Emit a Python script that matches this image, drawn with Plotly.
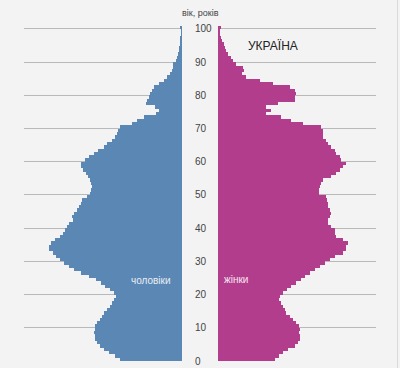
import plotly.graph_objects as go

# Age (years) 0..100
ages = list(range(0, 101))

# Population by single year of age, thousands
male = [186, 201, 219, 234, 246, 255, 261, 261, 264, 261,
        261, 255, 246, 240, 234, 225, 216, 210, 204, 198,
        204, 216, 231, 243, 258, 279, 303, 324, 339, 354,
        366, 378, 387, 399, 399, 393, 381, 366, 357, 351,
        345, 339, 327, 330, 324, 315, 309, 303, 300, 285,
        276, 273, 270, 273, 276, 282, 288, 297, 303, 303,
        291, 279, 264, 252, 234, 225, 210, 201, 195, 192,
        186, 150, 135, 114, 78, 69, 81, 108, 105, 99,
        96, 90, 84, 69, 54, 45, 36, 30, 27, 27,
        18, 15, 12, 10, 9, 7, 6, 4, 3, 3,
        6]

female = [171, 183, 195, 210, 231, 240, 246, 246, 243, 246,
          243, 234, 225, 216, 204, 201, 195, 189, 183, 186,
          195, 207, 219, 234, 249, 261, 276, 291, 306, 321,
          336, 351, 375, 384, 384, 390, 375, 354, 351, 351,
          339, 330, 330, 336, 339, 336, 330, 330, 327, 324,
          303, 303, 306, 309, 315, 339, 354, 366, 375, 384,
          369, 366, 354, 351, 339, 330, 324, 315, 315, 315,
          309, 255, 219, 189, 144, 159, 144, 180, 231, 231,
          234, 231, 216, 165, 126, 84, 72, 78, 75, 54,
          45, 39, 30, 24, 21, 18, 12, 9, 6, 6,
          9]

tick_vals = [0, 10, 20, 30, 40, 50, 60, 70, 80, 90, 100]
tick_text = ["0", "10", "20", "30", "40", "50", "60", "70", "80", "90", "100"]

MALE = "#5b87b4"
FEMALE = "#b33d8d"
GRID = "#b9b9b9"
BG = "#f3f3f3"
FONT = "Liberation Sans, Arial, sans-serif"

fig = go.Figure()
fig.add_trace(go.Bar(y=ages, x=male, orientation="h", width=1, offset=0,
                     marker=dict(color=MALE, line=dict(width=0)),
                     xaxis="x", yaxis="y", name="чоловіки", hoverinfo="x+y"))
fig.add_trace(go.Bar(y=ages, x=female, orientation="h", width=1, offset=0,
                     marker=dict(color=FEMALE, line=dict(width=0)),
                     xaxis="x2", yaxis="y2", name="жінки", hoverinfo="x+y"))

fig.update_layout(
    width=400, height=368,
    margin=dict(l=0, r=0, t=24, b=7, autoexpand=False),
    paper_bgcolor=BG, plot_bgcolor=BG,
    bargap=0, showlegend=False,
    font=dict(family=FONT, color="#444"),
    xaxis=dict(domain=[0.06, 0.455], range=[474, 0], visible=False, fixedrange=True),
    xaxis2=dict(domain=[0.545, 0.94], range=[0, 474], visible=False, fixedrange=True),
    yaxis=dict(anchor="x", side="right", range=[0, 101.5], automargin=False,
               tickvals=tick_vals, ticktext=tick_text, fixedrange=True,
               showgrid=True, gridcolor=GRID, gridwidth=1,
               ticks="outside", ticklen=10, tickcolor="rgba(0,0,0,0)",
               tickfont=dict(size=10, color="#444", family=FONT),
               zeroline=False, showline=False),
    yaxis2=dict(anchor="x2", matches="y", range=[0, 101.5], automargin=False,
                tickvals=tick_vals, showticklabels=False, fixedrange=True,
                showgrid=True, gridcolor=GRID, gridwidth=1,
                zeroline=False, showline=False),
    shapes=[
        dict(type="line", xref="paper", yref="paper", x0=397.5 / 400, x1=397.5 / 400,
             y0=-7 / 337, y1=(361 + 0) / 337 + 0.0,
             line=dict(color="#dadada", width=1)),
    ],
    annotations=[
        dict(text="вік, років", x=0.5, y=(361 - 13) / 337, xref="paper", yref="paper",
             showarrow=False, font=dict(size=9, color="#444", family=FONT),
             xanchor="center", yanchor="middle"),
        dict(text="УКРАЇНА", x=272.5 / 400, y=(361 - 46) / 337, xref="paper", yref="paper",
             showarrow=False, font=dict(size=12, color="#222", family=FONT),
             xanchor="center", yanchor="middle"),
        dict(text="чоловіки", x=151 / 400, y=(361 - 280) / 337, xref="paper", yref="paper",
             showarrow=False, font=dict(size=10, color="#e8eef5", family=FONT),
             xanchor="center", yanchor="middle"),
        dict(text="жінки", x=235.5 / 400, y=(361 - 279) / 337, xref="paper", yref="paper",
             showarrow=False, font=dict(size=10, color="#f6e6f0", family=FONT),
             xanchor="center", yanchor="middle"),
    ],
)

fig.write_html("out.html", config={"displayModeBar": False},
               post_script="document.body.style.margin='0';document.body.style.padding='0';")
